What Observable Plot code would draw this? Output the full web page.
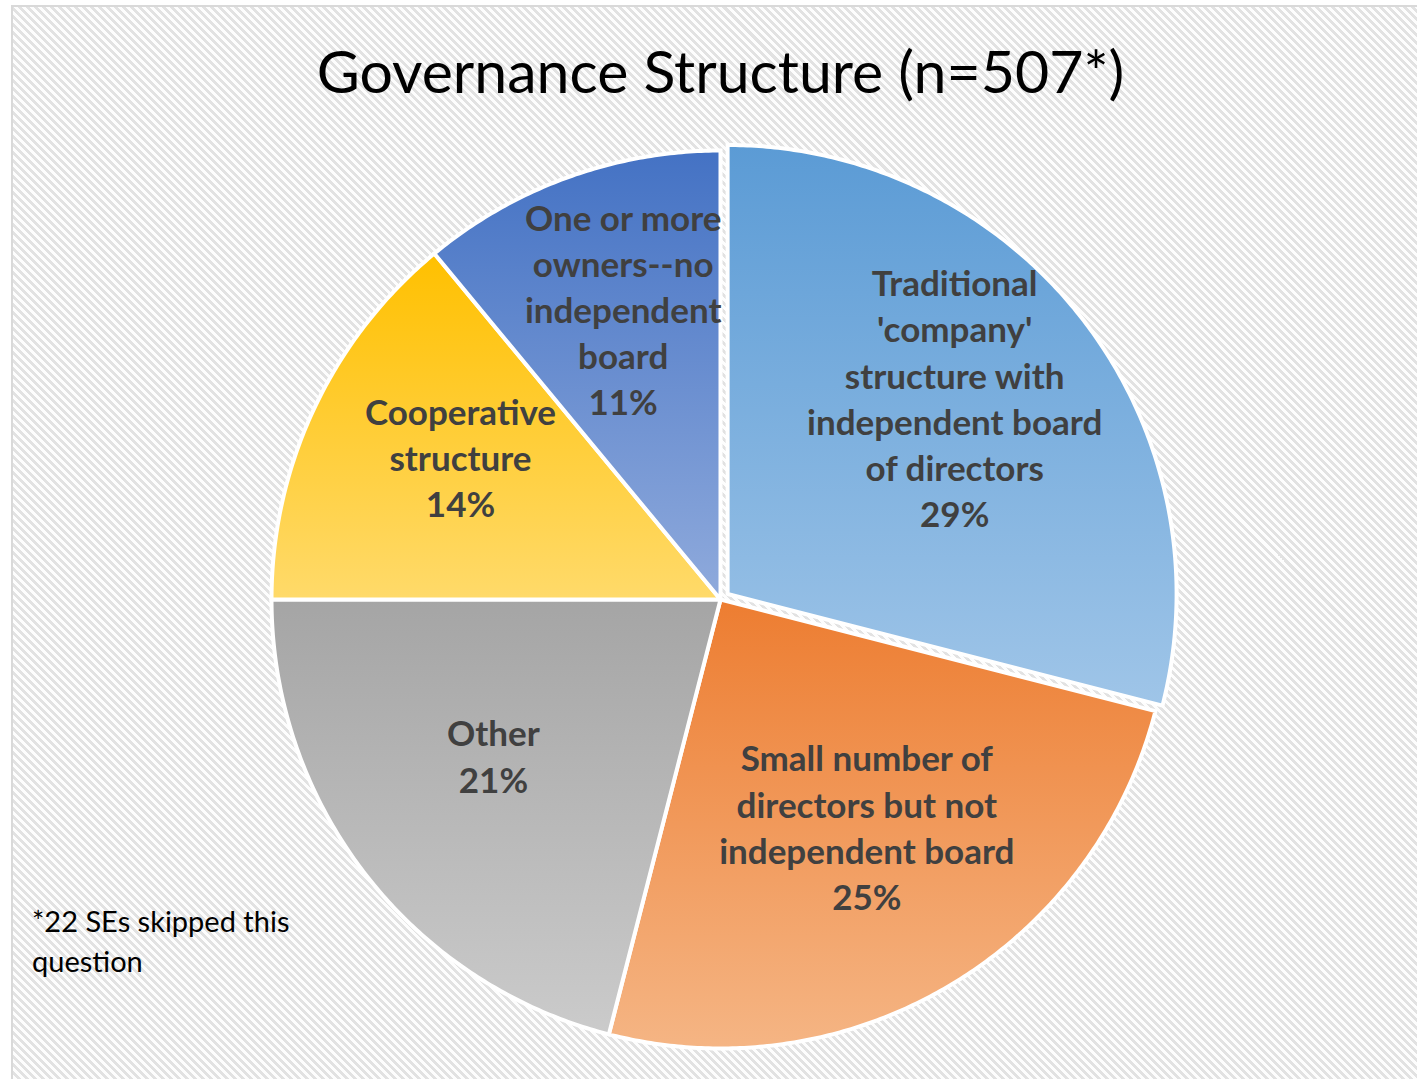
<!DOCTYPE html>
<html>
<head>
<meta charset="utf-8">
<script src="https://cdn.jsdelivr.net/npm/d3@7"></script>
<script src="https://cdn.jsdelivr.net/npm/@observablehq/plot@0.6"></script>
<style>
  html, body { margin: 0; padding: 0; width: 1417px; height: 1079px; overflow: hidden; background: #ffffff; }
  #frame {
    position: absolute; left: 11px; top: 5px; width: 1430px; height: 1100px;
    box-sizing: border-box; border: 2px solid #d9d9d9;
    background: repeating-linear-gradient(45deg, #fdfdfd 0px, #fdfdfd 2.83px, #e2e2e2 2.83px, #e2e2e2 5.66px);
  }
  #title {
    position: absolute; left: 0; top: 41px; width: 1441px; text-align: center;
    font-family: Lato, sans-serif; font-size: 59px; line-height: 59px; color: #000;
  }
  #chart { position: absolute; left: 0; top: 0; }
  #note {
    position: absolute; left: 32px; top: 901px;
    font-family: Lato, sans-serif; font-size: 29px; line-height: 40px; color: #000;
  }
</style>
</head>
<body>
<div id="frame"></div>
<div id="chart"></div>
<div id="title">Governance Structure (n=507*)</div>
<div id="note">*22 SEs skipped this<br>question</div>
<script>
// ---- data ----
const categories = [
  "Traditional\n'company'\nstructure with\nindependent board\nof directors",
  "Small number of\ndirectors but not\nindependent board",
  "Other",
  "Cooperative\nstructure",
  "One or more\nowners--no\nindependent\nboard"
];
const shares = [29, 25, 21, 14, 11];

// ---- styles ----
const colorsTop = ["#5b9bd5", "#ed7d31", "#a5a5a5", "#ffc000", "#4472c4"];
const colorsBottom = ["#9fc5e8", "#f5b584", "#cbcbcb", "#ffda6a", "#8faadc"];

// ---- layout ----
const W = 1417, H = 1079, CX = 720, CY = 599, R = 449;
const explodedCategory = categories[0];
const explode = 9 / R;
const LABEL_R = 0.64;

const table = categories.map((c, i) => ({category: c, share: shares[i], idx: i}));
const arcs = d3.pie().sort(null).value(d => d.share).startAngle(0).endAngle(2 * Math.PI)(table);

const slices = arcs.map(a => {
  const mid = (a.startAngle + a.endAngle) / 2;
  const off = a.data.category === explodedCategory ? explode : 0;
  const ox = off * Math.sin(mid), oy = off * Math.cos(mid);
  const pts = [{x: ox, y: oy}];
  const n = Math.max(2, Math.ceil((a.endAngle - a.startAngle) / (Math.PI / 360)));
  for (let k = 0; k <= n; k++) {
    const t = a.startAngle + (a.endAngle - a.startAngle) * k / n;
    pts.push({x: ox + Math.sin(t), y: oy + Math.cos(t)});
  }
  pts.push({x: ox, y: oy});
  return {i: a.data.idx, pts, mid, ox, oy, data: a.data};
});

const labels = slices.map(s => ({
  x: s.ox + LABEL_R * Math.sin(s.mid),
  y: s.oy + LABEL_R * Math.cos(s.mid),
  text: `${s.data.category}\n${s.data.share}%`
}));

const defsMark = () => {
  const defs = d3.create("svg:defs");
  colorsTop.forEach((c, i) => {
    const g = defs.append("linearGradient").attr("id", `grad${i}`)
      .attr("x1", 0).attr("y1", 0).attr("x2", 0).attr("y2", 1);
    g.append("stop").attr("offset", "0%").attr("stop-color", c);
    g.append("stop").attr("offset", "100%").attr("stop-color", colorsBottom[i]);
  });
  return defs.node();
};

const chart = Plot.plot({
  width: W, height: H, margin: 0,
  x: {domain: [-CX / R, (W - CX) / R], axis: null},
  y: {domain: [-(H - CY) / R, CY / R], axis: null},
  style: {background: "transparent", overflow: "visible"},
  marks: [
    defsMark,
    ...slices.map(s => Plot.line(s.pts, {
      x: "x", y: "y", fill: `url(#grad${s.i})`, stroke: "white", strokeWidth: 4,
      strokeLinejoin: "miter", strokeMiterlimit: 2
    })),
    Plot.text(labels, {
      x: "x", y: "y", text: "text", fontSize: 35, fontWeight: 700, dy: -21,
      fontFamily: "Lato, sans-serif", fill: "#404040", lineHeight: 1.32
    })
  ]
});
document.getElementById("chart").appendChild(chart);
</script>
</body>
</html>
